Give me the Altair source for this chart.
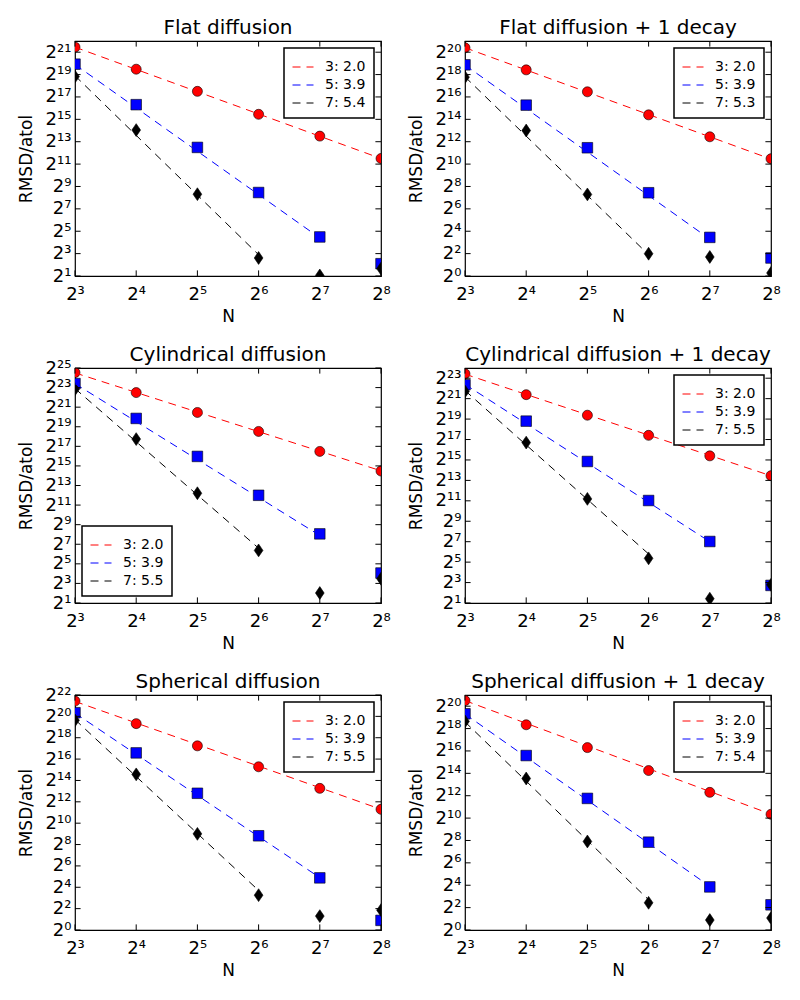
import altair as alt
import pandas as pd

# ---------------- data ----------------
N = [8, 16, 32, 64, 128, 256]

titles = [
    "Flat diffusion",
    "Flat diffusion + 1 decay",
    "Cylindrical diffusion",
    "Cylindrical diffusion + 1 decay",
    "Spherical diffusion",
    "Spherical diffusion + 1 decay",
]

# log2(RMSD/atol) for orders 3, 5, 7
flat_o3 = [21.45, 19.48, 17.5, 15.45, 13.5, 11.5]
flat_o5 = [19.93, 16.31, 12.49, 8.46, 4.49, 2.1]
flat_o7 = [18.82, 14.04, 8.31, 2.61, 1.05, 1.66]

flatd_o3 = [20.39, 18.42, 16.46, 14.4, 12.44, 10.48]
flatd_o5 = [18.87, 15.27, 11.46, 7.44, 3.45, 1.61]
flatd_o7 = [17.77, 13.0, 7.29, 1.99, 1.7, 0.27]

cyl_o3 = [24.53, 22.49, 20.46, 18.52, 16.48, 14.48]
cyl_o5 = [23.41, 19.85, 15.97, 12.0, 8.06, 4.06]
cyl_o7 = [22.83, 17.74, 12.21, 6.37, 2.02, 3.48]

cyld_o3 = [23.43, 21.39, 19.38, 17.41, 15.4, 13.46]
cyld_o5 = [22.36, 18.8, 14.85, 11.03, 7.02, 2.72]
cyld_o7 = [21.71, 16.7, 11.19, 5.37, 1.42, 2.78]

sph_o3 = [21.43, 19.32, 17.24, 15.28, 13.26, 11.3]
sph_o5 = [20.34, 16.58, 12.8, 8.82, 4.88, 0.9]
sph_o7 = [19.63, 14.57, 9.0, 3.26, 1.3, 1.86]

sphd_o3 = [20.5, 18.34, 16.3, 14.25, 12.3, 10.34]
sphd_o5 = [19.32, 15.59, 11.76, 7.85, 3.85, 2.25]
sphd_o7 = [18.64, 13.54, 7.91, 2.43, 0.89, 1.07]

# fitted dashed lines: end points (log2) over the fitted N range
fit_N_o3 = [8, 256]
fit_N_o5 = [8, 128]
fit_N_o7 = [8, 64]

flat_fit = ([21.45, 11.5], [19.9, 4.4], [18.9, 2.9])
flatd_fit = ([20.4, 10.45], [18.85, 3.3], [17.8, 1.9])
cyl_fit = ([24.5, 14.5], [23.4, 7.9], [22.9, 6.6])
cyld_fit = ([23.4, 13.45], [22.4, 7.0], [21.8, 5.8])
sph_fit = ([21.4, 11.3], [20.3, 4.9], [19.7, 3.7])
sphd_fit = ([20.5, 10.35], [19.3, 3.9], [18.6, 2.7])

flat_labels = ["3: 2.0", "5: 3.9", "7: 5.4"]
flatd_labels = ["3: 2.0", "5: 3.9", "7: 5.3"]
cyl_labels = ["3: 2.0", "5: 3.9", "7: 5.5"]
cyld_labels = ["3: 2.0", "5: 3.9", "7: 5.5"]
sph_labels = ["3: 2.0", "5: 3.9", "7: 5.5"]
sphd_labels = ["3: 2.0", "5: 3.9", "7: 5.4"]

# y-axis ranges and tick exponents
flat_yrange, flat_yticks = (1, 22), list(range(1, 22, 2))
flatd_yrange, flatd_yticks = (0, 21), list(range(0, 21, 2))
cyl_yrange, cyl_yticks = (1, 25), list(range(1, 26, 2))
cyld_yrange, cyld_yticks = (1, 24), list(range(1, 24, 2))
sph_yrange, sph_yticks = (0, 22), list(range(0, 23, 2))
sphd_yrange, sphd_yticks = (0, 21), list(range(0, 21, 2))

x_ticks = [3, 4, 5, 6, 7, 8]

# ---------------- styling ----------------
W, H = 306, 235
FONT = "DejaVu Sans"
COLORS = ["#ff0000", "#0000ff", "#000000"]
SHAPES = ["circle", "square", "M0,-1L0.68,0L0,1L-0.68,0Z"]
SIZES = [100, 112, 165]
TICK = 5.6

SUP = "⁰¹²³⁴⁵⁶⁷⁸⁹"
E = "round(log(datum.value)/LN2)"
POW_LABEL = (
    f"'2' + ({E} >= 10 ? substring('{SUP}', floor({E}/10), floor({E}/10)+1) : '')"
    f" + substring('{SUP}', {E}%10, {E}%10+1)"
)


def panel(title, o3, o5, o7, fits, labels, yrange, yticks, legend_orient, title_dy=4):
    series_vals = [o3, o5, o7]
    lines = pd.DataFrame({
        "N": fit_N_o3 + fit_N_o5 + fit_N_o7,
        "y": [2.0 ** v for v in (fits[0] + fits[1] + fits[2])],
        "series": [labels[0]] * 2 + [labels[1]] * 2 + [labels[2]] * 2,
    })
    ytick_df = pd.DataFrame({"y": [2.0 ** k for k in yticks]})
    xtick_df = pd.DataFrame({"N": [2 ** k for k in x_ticks]})

    xscale = alt.Scale(type="log", base=2, domain=[8, 256], nice=False)
    yscale = alt.Scale(type="log", base=2, domain=[2.0 ** yrange[0], 2.0 ** yrange[1]], nice=False)
    xaxis = alt.Axis(
        values=[2 ** k for k in x_ticks], labelExpr=POW_LABEL, title="N",
        ticks=False, domain=False, grid=False, labelFlush=False, labelOverlap=False,
        labelPadding=9, titlePadding=5,
    )
    yaxis = alt.Axis(
        values=[2.0 ** k for k in yticks], labelExpr=POW_LABEL, title="RMSD/atol",
        ticks=False, domain=False, grid=False, labelFlush=False, labelOverlap=False,
        labelPadding=4, titlePadding=10,
    )
    X = alt.X("N:Q", scale=xscale, axis=xaxis)
    Y = alt.Y("y:Q", scale=yscale, axis=yaxis)

    layers = []
    for vals, col, shp, sz in zip(series_vals, COLORS, SHAPES, SIZES):
        df = pd.DataFrame({"N": N, "y": [2.0 ** v for v in vals]})
        layers.append(
            alt.Chart(df).mark_point(
                filled=True, clip=True, fill=col, stroke="black", strokeWidth=0.6,
                opacity=1, shape=shp, size=sz,
            ).encode(x=X, y=Y)
        )

    fitlines = alt.Chart(lines).mark_line(strokeDash=[8, 6], strokeWidth=1, clip=True).encode(
        x=X, y=Y,
        color=alt.Color(
            "series:N", scale=alt.Scale(domain=labels, range=COLORS),
            legend=alt.Legend(
                orient=legend_orient, title=None, symbolType="stroke", symbolSize=441,
                symbolStrokeWidth=1, symbolDash=[8, 6], labelFontSize=14,
                labelFont=FONT, labelColor="black", padding=8, rowPadding=0,
                strokeColor="black", fillColor="white", cornerRadius=0, offset=7,
                labelOffset=11,
            ),
        ),
    )
    yl = alt.Chart(ytick_df).mark_rule(color="black", strokeWidth=1).encode(
        y=Y, x=alt.value(0), x2=alt.value(TICK))
    yr = alt.Chart(ytick_df).mark_rule(color="black", strokeWidth=1).encode(
        y=Y, x=alt.value(W - TICK), x2=alt.value(W))
    xb = alt.Chart(xtick_df).mark_rule(color="black", strokeWidth=1).encode(
        x=X, y=alt.value(H - TICK), y2=alt.value(H))
    xt = alt.Chart(xtick_df).mark_rule(color="black", strokeWidth=1).encode(
        x=X, y=alt.value(0), y2=alt.value(TICK))

    return alt.layer(*layers, fitlines, yl, yr, xb, xt).properties(
        width=W, height=H,
        title=alt.Title(title, font=FONT, fontSize=20, fontWeight="normal",
                        color="black", offset=7, anchor="middle", dy=title_dy),
    )


p1 = panel(titles[0], flat_o3, flat_o5, flat_o7, flat_fit, flat_labels, flat_yrange, flat_yticks, "top-right")
p2 = panel(titles[1], flatd_o3, flatd_o5, flatd_o7, flatd_fit, flatd_labels, flatd_yrange, flatd_yticks, "top-right")
p3 = panel(titles[2], cyl_o3, cyl_o5, cyl_o7, cyl_fit, cyl_labels, cyl_yrange, cyl_yticks, "bottom-left", title_dy=13)
p4 = panel(titles[3], cyld_o3, cyld_o5, cyld_o7, cyld_fit, cyld_labels, cyld_yrange, cyld_yticks, "top-right")
p5 = panel(titles[4], sph_o3, sph_o5, sph_o7, sph_fit, sph_labels, sph_yrange, sph_yticks, "top-right", title_dy=13)
p6 = panel(titles[5], sphd_o3, sphd_o5, sphd_o7, sphd_fit, sphd_labels, sphd_yrange, sphd_yticks, "top-right")

chart = alt.concat(
    p1, p2, p3, p4, p5, p6, columns=2,
    spacing={"row": 92, "column": 84}, bounds="flush",
).resolve_scale(
    x="independent", y="independent", color="independent",
).properties(
    padding={"left": 8, "top": 8, "right": 5, "bottom": 5},
    background="white",
).configure_view(
    stroke="black", strokeWidth=1.2,
).configure_axis(
    labelFont=FONT, labelFontSize=18, labelColor="black",
    titleFont=FONT, titleFontSize=17, titleFontWeight="normal", titleColor="black",
).configure_legend(
    strokeWidth=1.5,
)

chart.save("out.html", embed_options={"renderer": "svg", "actions": False})
